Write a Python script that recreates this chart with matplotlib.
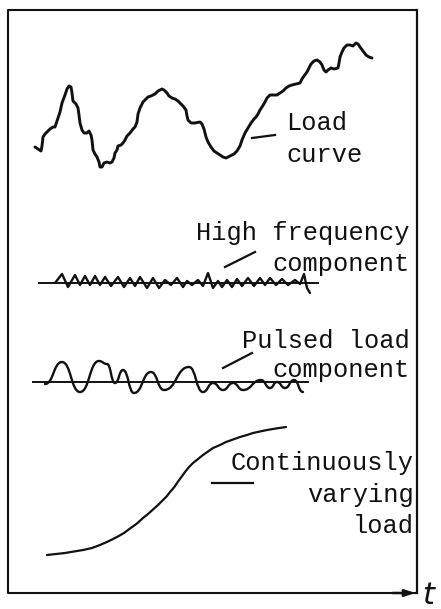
import matplotlib
matplotlib.use("Agg")
import matplotlib.pyplot as plt
from matplotlib.path import Path
from matplotlib.patches import PathPatch

# ---------------- data (drawing coordinates, y grows downward) ----------------
load_x = [35,38,41,42,43,45,47,50,53,55,57,60,62,65,67,69,71,72,73,76,78,79,80,82,84,87,89,91,92,93,95,97,99,100,
          102,104,107,110,112,114,115,117,118,121,123,125,127,130,133,135,137,138,140,143,146,148,151,155,158,162,
          164,167,169,172,175,178,181,183,186,187,188,191,195,200,202,204,206,208,211,214,217,220,223,226,230,234,
          237,240,242,245,248,251,254,256,258,260,262,265,267,270,273,277,280,283,286,289,292,296,300,302,304,307,
          309,311,314,317,320,322,324,326,328,331,334,338,339,340,342,344,347,350,353,356,358,360,363,366,369,372]
load_y = [147,149,151,146,137,134,132,129,127,127,121,112,103,95,89,86,87,93,101,104,108,115,123,130,133,133,131,135,140,150,154,157,162,167,
          167,163,162,163,162,158,153,150,146,145,143,140,136,133,129,127,122,114,108,102,99,97,96,94,91,89,
          90,93,96,98,99,101,104,106,110,116,120,123,123,122,124,129,137,142,147,151,153,155,157,158,156,154,
          151,146,140,133,128,123,119,117,114,110,107,102,98,95,95,95,93,91,88,86,85,84,83,79,76,72,
          68,64,61,60,62,65,70,72,70,68,69,68,63,57,52,48,45,45,46,43,44,47,51,55,57,58]

hf_x = [55,62,68,75,80,85,90,95,100,105,111,118,124,130,135,140,147,153,159,165,171,177,183,187,192,
        198,203,208,213,218,222,227,232,237,242,248,254,260,265,270,276,282,288,295,300,304,307,310]
hf_y = [283,274,287,275,285,276,285,276,285,277,286,277,287,278,286,277,288,278,288,280,285,278,287,281,285,
        280,286,273,288,281,287,280,287,279,286,278,286,278,285,278,285,279,285,280,284,274,288,293]
hf_base_x = [39, 318]
hf_base_y = [283, 283]

pulse_x = [45,62,80,99,107,115,123,134,151,164,189,203,213,223,233,243,261,270,277,285,294,303]
pulse_y = [384,362,392,361,364,383,370,393,372,390,367,392,383,390,383,390,380,388,382,388,380,392]
pulse_base_x = [33, 308]
pulse_base_y = [382, 382]

cont_x = [47,56,65,74,83,92,100,108,117,124,130,137,143,148,153,158,163,167,170,174,177,181,185,189,193,198,
          203,208,213,220,226,233,240,247,253,260,267,276,286]
cont_y = [555,554,553,551.5,550,548,545,541.5,537,533,528.5,523.5,518,514,509.5,505,500,496,492,487.5,483,477.5,
          472,467,463,459,455,451.5,448,445,442,439.5,437,435,433,431.5,430,428.5,427]

labels = {
    "load": (["Load", "curve"], [130, 162]),
    "hf": (["High frequency", "component"], [240, 271]),
    "pulse": (["Pulsed load", "component"], [348, 377]),
    "cont": (["Continuously", "varying", "load"], [470, 502, 533]),
}
leaders = [((252, 138), (275, 135)),
           ((225, 267), (255, 252)),
           ((223, 368), (252, 353)),
           ((212, 483), (253, 483))]

box_left, box_top, box_right, box_bottom = 8, 10, 417, 593

# ---------------- figure ----------------
fig = plt.figure(figsize=(4.41, 6.09), dpi=100)
ax = fig.add_axes([0, 0, 1, 1])
ax.set_xlim(0, 441)
ax.set_ylim(609, 0)
ax.axis("off")

ink = "#111111"

# frame
ax.plot([box_right, box_left, box_left, box_right],
        [box_top, box_top, box_bottom, box_bottom], color=ink, lw=1.5,
        solid_capstyle="butt")
ax.plot([box_right, box_right], [box_top, box_bottom], color=ink, lw=1.6)
ax.annotate("", xy=(box_right + 1, box_bottom), xytext=(390, box_bottom),
            arrowprops=dict(arrowstyle="-|>,head_length=0.6,head_width=0.2",
                            color=ink, lw=1.8))
ax.text(422, 604, "t", fontsize=22, style="italic", family="DejaVu Sans",
        color=ink, va="baseline", ha="left", fontweight="light")


def smooth_path(xs, ys, k=0.5):
    verts = [(xs[0], ys[0])]
    codes = [Path.MOVETO]
    for i in range(1, len(xs)):
        x0, y0, x1, y1 = xs[i - 1], ys[i - 1], xs[i], ys[i]
        d = (x1 - x0) * k
        verts += [(x0 + d, y0), (x1 - d, y1), (x1, y1)]
        codes += [Path.CURVE4] * 3
    return Path(verts, codes)


# load curve
ax.plot(load_x, load_y, color=ink, lw=2.1, solid_joinstyle="round",
        solid_capstyle="round")

# high-frequency component
ax.plot(hf_base_x, hf_base_y, color=ink, lw=1.4)
ax.plot(hf_x, hf_y, color=ink, lw=1.7, solid_joinstyle="round",
        solid_capstyle="round")

# pulsed load component
ax.plot(pulse_base_x, pulse_base_y, color=ink, lw=1.4)
ax.add_patch(PathPatch(smooth_path(pulse_x, pulse_y, 0.5), fill=False,
                       edgecolor=ink, lw=1.7, capstyle="round"))

# continuously varying load
ax.plot(cont_x, cont_y, color=ink, lw=1.6, solid_joinstyle="round",
        solid_capstyle="round")

# leaders
for (a, b) in leaders:
    ax.plot([a[0], b[0]], [a[1], b[1]], color=ink, lw=1.6)

# labels
fs = 18.3
font = "Liberation Mono"
for ln, yy in zip(*labels["load"]):
    ax.text(286, yy, ln, fontsize=fs, family=font, color=ink, ha="left", va="baseline")
for key, xr in (("hf", 410), ("pulse", 410), ("cont", 414)):
    for ln, yy in zip(*labels[key]):
        ax.text(xr, yy, ln, fontsize=fs, family=font, color=ink, ha="right", va="baseline")

fig.savefig("out.png", dpi=100)
